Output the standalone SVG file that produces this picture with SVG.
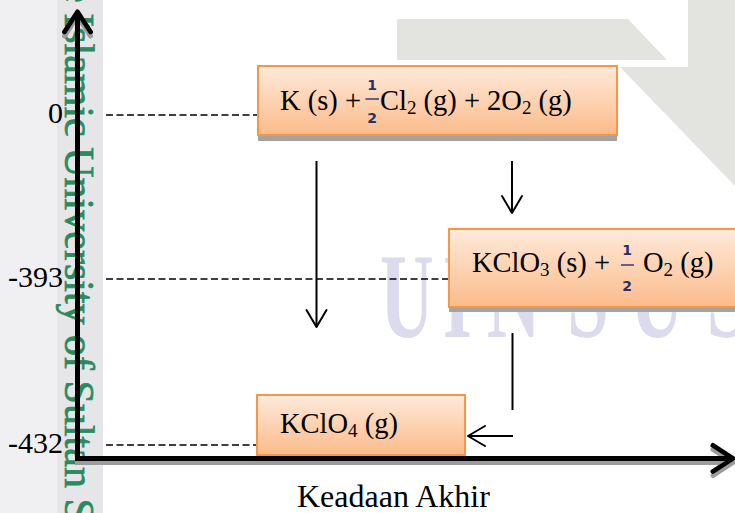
<svg xmlns="http://www.w3.org/2000/svg" width="735" height="513" viewBox="0 0 735 513">
  <style>
    .serif { font-family: "Liberation Serif", "Times New Roman", serif; fill: #000; }
    .lbl { font-size: 28.5px; }
    .axisnum { font-size: 30px; text-anchor: end; }
    .sub { font-size: 19px; }
    .frac { font-family: "DejaVu Sans", "Liberation Sans", sans-serif; font-size: 14px; font-weight: bold; fill: #26306a; text-anchor: middle; }
    .fbar { stroke: #26306a; stroke-width: 1.4; }
    .box { fill: url(#peach); stroke: #f79646; stroke-width: 2; }
    .shadow { fill: #a3a3a3; }
    .dash { stroke: #000; stroke-width: 1.4; stroke-dasharray: 7 3.5; fill: none; }
    .flow { stroke: #000; stroke-width: 2; fill: none; }
    .axis { stroke: #000; stroke-width: 5; fill: none; }
  </style>
  <defs>
    <linearGradient id="peach" x1="0" y1="0" x2="0" y2="1">
      <stop offset="0" stop-color="#feeadb"/>
      <stop offset="1" stop-color="#fbbb8a"/>
    </linearGradient>
    <marker id="head" markerUnits="userSpaceOnUse" viewBox="-20 -12 24 24" refX="0" refY="0" markerWidth="24" markerHeight="24" orient="auto" overflow="visible">
      <path d="M-17,-10 L0,0 L-17,10" fill="none" stroke="#000" stroke-width="2" stroke-linejoin="round" stroke-linecap="round"/>
    </marker>
    <marker id="axisHead" markerUnits="userSpaceOnUse" viewBox="-24 -16 28 32" refX="0" refY="0" markerWidth="28" markerHeight="32" orient="auto" overflow="visible">
      <path d="M-18,-13 L2,0 L-18,13" fill="none" stroke="#000" stroke-width="5" stroke-linejoin="round" stroke-linecap="round"/>
    </marker>
    <filter id="axisShadow" x="-5%" y="-5%" width="110%" height="110%">
      <feOffset in="SourceAlpha" dx="0" dy="4" result="off"/>
      <feFlood flood-color="#9c9c9c"/>
      <feComposite in2="off" operator="in" result="sh"/>
      <feMerge><feMergeNode in="sh"/><feMergeNode in="SourceGraphic"/></feMerge>
    </filter>
  </defs>

  <!-- page background with the faint university watermark -->
  <g id="watermark">
    <rect x="0" y="0" width="735" height="513" fill="#ffffff"/>
    <rect x="0" y="0" width="57" height="513" fill="#f0f0f2"/>
    <rect x="57" y="0" width="46" height="513" fill="#e6e6e8"/>
    <polygon points="397,19 628,19 667,60 397,60" fill="#e3e4e0"/>
    <polygon points="688,0 735,0 735,186 620,67 688,67" fill="#e3e4e0"/>
    <text transform="translate(65,-16) rotate(90)" font-family="Liberation Serif, Times New Roman, serif" font-size="42" fill="#2b8a5e" stroke="#2b8a5e" stroke-width="0.7">e Islamic University of Sultan S</text>
    <text transform="translate(0,337) scale(0.62,1)" font-family="Liberation Serif, Times New Roman, serif" font-size="120" font-weight="bold" fill="#dcdbed" x="613 714 785 915 1016 1140">UINSUS</text>
  </g>

  <!-- energy axes -->
  <g id="axes" filter="url(#axisShadow)">
    <line class="axis" x1="77.5" y1="459" x2="77.5" y2="14" marker-end="url(#axisHead)"/>
    <line class="axis" x1="75" y1="458.5" x2="731" y2="458.5" marker-end="url(#axisHead)"/>
  </g>

  <!-- enthalpy level guides -->
  <g id="levels">
    <line class="dash" x1="106" y1="115" x2="258" y2="115"/>
    <line class="dash" x1="106" y1="279" x2="449" y2="279"/>
    <line class="dash" x1="106" y1="445" x2="257" y2="445"/>
    <text class="serif axisnum" x="63" y="123">0</text>
    <text class="serif axisnum" x="63" y="287">-393</text>
    <text class="serif axisnum" x="63" y="453">-432</text>
  </g>

  <!-- reaction paths -->
  <g id="connectors">
    <line class="flow" x1="316.5" y1="161" x2="316.5" y2="327" marker-end="url(#head)"/>
    <line class="flow" x1="512" y1="161" x2="512" y2="213" marker-end="url(#head)"/>
    <line class="flow" x1="512.5" y1="333" x2="512.5" y2="410"/>
    <line class="flow" x1="513" y1="436" x2="468" y2="436" marker-end="url(#head)"/>
  </g>

  <g id="start-state">
    <rect class="shadow" x="258" y="71" width="359" height="70"/>
    <rect class="box" x="258" y="66" width="359" height="69"/>
    <text class="serif lbl" x="280" y="110">K (s) +</text>
    <text class="frac" x="372" y="90">1</text>
    <line class="fbar" x1="365.5" y1="99" x2="379" y2="99"/>
    <text class="frac" x="372" y="123">2</text>
    <text class="serif lbl" x="380" y="110">Cl<tspan class="sub" dy="4">2</tspan><tspan dy="-4"> (g) + 2O</tspan><tspan class="sub" dy="4">2</tspan><tspan dy="-4"> (g)</tspan></text>
  </g>

  <g id="intermediate-state">
    <rect class="shadow" x="449" y="234" width="300" height="78"/>
    <rect class="box" x="449" y="229" width="300" height="78"/>
    <text class="serif lbl" x="472" y="272">KClO<tspan class="sub" dy="4">3</tspan><tspan dy="-4"> (s) +</tspan></text>
    <text class="frac" x="627" y="255">1</text>
    <line class="fbar" x1="621" y1="265" x2="634" y2="265"/>
    <text class="frac" x="627" y="291">2</text>
    <text class="serif lbl" x="643" y="272">O<tspan class="sub" dy="4">2</tspan><tspan dy="-4"> (g)</tspan></text>
  </g>

  <g id="final-state">
    <rect class="box" x="257" y="395" width="208" height="60"/>
    <text class="serif lbl" x="280" y="433">KClO<tspan class="sub" dy="4">4</tspan><tspan dy="-4"> (g)</tspan></text>
  </g>

  <g id="axis-title">
    <text class="serif" font-size="32" x="297" y="507">Keadaan Akhir</text>
  </g>
</svg>
